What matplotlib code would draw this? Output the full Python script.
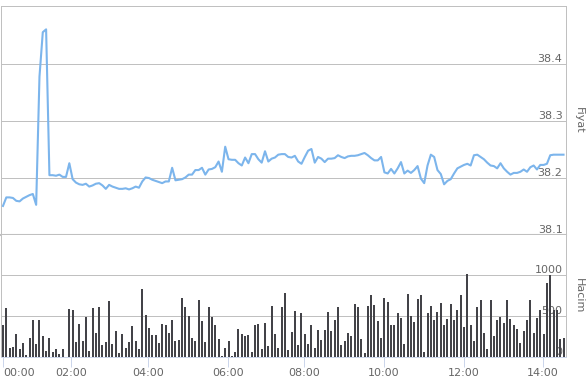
import matplotlib
matplotlib.use('Agg')
import matplotlib.pyplot as plt
import numpy as np

# Fiyat (5 dakikalik kapanis)
price = [
    38.151, 38.166, 38.166, 38.165, 38.160, 38.159, 38.164, 38.167, 38.170, 38.172,
    38.153, 38.378, 38.456, 38.461, 38.205, 38.205, 38.204, 38.206, 38.202, 38.202,
    38.226, 38.198, 38.192, 38.189, 38.188, 38.190, 38.185, 38.187, 38.190, 38.191,
    38.187, 38.181, 38.188, 38.185, 38.183, 38.181, 38.181, 38.182, 38.180, 38.182,
    38.185, 38.183, 38.194, 38.201, 38.200, 38.197, 38.195, 38.193, 38.191, 38.194,
    38.194, 38.218, 38.196, 38.197, 38.198, 38.201, 38.206, 38.206, 38.214, 38.214,
    38.218, 38.206, 38.215, 38.216, 38.219, 38.229, 38.211, 38.255, 38.233, 38.232,
    38.232, 38.226, 38.222, 38.236, 38.226, 38.242, 38.242, 38.233, 38.227, 38.247,
    38.229, 38.234, 38.236, 38.241, 38.242, 38.242, 38.237, 38.236, 38.239, 38.229,
    38.225, 38.237, 38.248, 38.251, 38.227, 38.237, 38.234, 38.228, 38.234, 38.234,
    38.235, 38.240, 38.237, 38.235, 38.238, 38.239, 38.239, 38.240, 38.242, 38.244,
    38.240, 38.235, 38.231, 38.231, 38.237, 38.210, 38.208, 38.216, 38.208, 38.217,
    38.228, 38.208, 38.213, 38.209, 38.214, 38.221, 38.199, 38.191, 38.222, 38.241,
    38.237, 38.214, 38.207, 38.189, 38.195, 38.198, 38.208, 38.217, 38.220, 38.223,
    38.225, 38.222, 38.240, 38.241, 38.237, 38.233, 38.227, 38.222, 38.221, 38.217,
    38.226, 38.217, 38.211, 38.206, 38.209, 38.209, 38.211, 38.215, 38.211, 38.219,
    38.222, 38.215, 38.223, 38.223, 38.225, 38.240, 38.241, 38.241, 38.241, 38.241,
]

# Hacim
volume = [
    390, 594, 110, 118, 277, 94, 167, 20, 228, 452,
    155, 452, 252, 69, 228, 57, 94, 33, 94, 0,
    582, 570, 179, 399, 195, 484, 69, 594, 289, 606,
    142, 179, 680, 155, 313, 45, 277, 106, 179, 374,
    191, 94, 826, 509, 350, 265, 265, 167, 399, 387,
    289, 448, 191, 203, 716, 606, 497, 228, 191, 692,
    435, 179, 606, 484, 387, 216, 8, 106, 191, 8,
    57, 338, 277, 256, 265, 57, 387, 399, 94, 411,
    130, 619, 277, 106, 606, 777, 81, 301, 557, 142,
    533, 277, 155, 387, 106, 326, 203, 326, 545, 313,
    448, 606, 142, 191, 289, 252, 643, 606, 216, 45,
    619, 753, 631, 435, 228, 716, 667, 387, 387, 533,
    472, 155, 765, 497, 423, 704, 753, 57, 533, 619,
    448, 545, 655, 387, 460, 643, 448, 570, 753, 362,
    1009, 387, 191, 606, 692, 289, 94, 692, 252, 448,
    484, 411, 692, 460, 387, 338, 167, 313, 448, 692,
    289, 472, 570, 277, 904, 998, 570, 570, 216, 228,
]

# Zaman ekseni etiketleri (ordinal eksende konumlari)
time_labels = ['00:00', '02:00', '04:00', '06:00', '08:00', '10:00', '12:00', '14:00']
time_pos = [0, 20.5, 43.7, 67.8, 90.7, 114.9, 139.0, 162.8]

price_ticks = [38.1, 38.2, 38.3, 38.4]
volume_ticks = [0, 500, 1000]

x = np.arange(len(price))

W, H = 586, 379
fig = plt.figure(figsize=(W / 100, H / 100), dpi=100)
fig.patch.set_facecolor('white')

grid_c = '#c0c0c0'
label_c = '#666666'
px = 0.72  # 1 piksel (pt)

left, right = 1 / W, 565.5 / W
ax1 = fig.add_axes([left, (H - 235) / H, right - left, 229 / H])
ax2 = fig.add_axes([left, (H - 357) / H, right - left, 122 / H])

# --- Fiyat paneli ---
ax1.plot(x, price, color='#7cb5ec', lw=1.5, solid_joinstyle='round', zorder=3)
ax1.set_ylim(38.1, 38.502)
ax1.set_xlim(-0.6, 169.6)
for t in price_ticks[1:]:
    ax1.axhline(t, color=grid_c, lw=px, zorder=1)
for t in price_ticks:
    ax1.annotate(f'{t:.1f}', xy=(1, t), xycoords=('axes fraction', 'data'),
                 xytext=(-3, 2), textcoords='offset pixels', ha='right', va='baseline',
                 fontsize=8, color=label_c, zorder=4, annotation_clip=False)
ax1.set_xticks([])
ax1.set_yticks([])
for s in ['left', 'right', 'top']:
    ax1.spines[s].set_color(grid_c)
    ax1.spines[s].set_linewidth(px)
ax1.spines['bottom'].set_color(grid_c)
ax1.spines['bottom'].set_linewidth(1.5)
ax1.spines['bottom'].set_zorder(5)

# --- Hacim paneli ---
ax2.bar(x, volume, width=0.6, color='#434348', zorder=3)
ax2.set_ylim(0, 1488)
ax2.set_xlim(-0.6, 169.6)
for t in volume_ticks[1:]:
    ax2.axhline(t, color=grid_c, lw=px, zorder=1)
for t in volume_ticks:
    ax2.annotate(f'{t}', xy=(1, t), xycoords=('axes fraction', 'data'),
                 xytext=(-3, 2), textcoords='offset pixels', ha='right', va='baseline',
                 fontsize=8, color=label_c, zorder=2, annotation_clip=False)
ax2.set_yticks([])
ax2.set_xticks(time_pos)
ax2.set_xticklabels(time_labels)
ax2.tick_params(axis='x', length=7.2, width=px, color='#ccd6eb', labelsize=8,
                labelcolor=label_c, pad=1)
ax2.get_xticklabels()[0].set_horizontalalignment('left')
ax2.spines['top'].set_visible(False)
for s in ['left', 'right']:
    ax2.spines[s].set_color(grid_c)
    ax2.spines[s].set_linewidth(px)
ax2.spines['bottom'].set_color('#ccd6eb')
ax2.spines['bottom'].set_linewidth(px)

# Eksen basliklari
fig.text(579 / W, (H - 120) / H, 'Fiyat', rotation=270, ha='center', va='center',
         fontsize=8, color=label_c)
fig.text(579 / W, (H - 296) / H, 'Hacim', rotation=270, ha='center', va='center',
         fontsize=8, color=label_c)

fig.savefig('out.png', dpi=100)
